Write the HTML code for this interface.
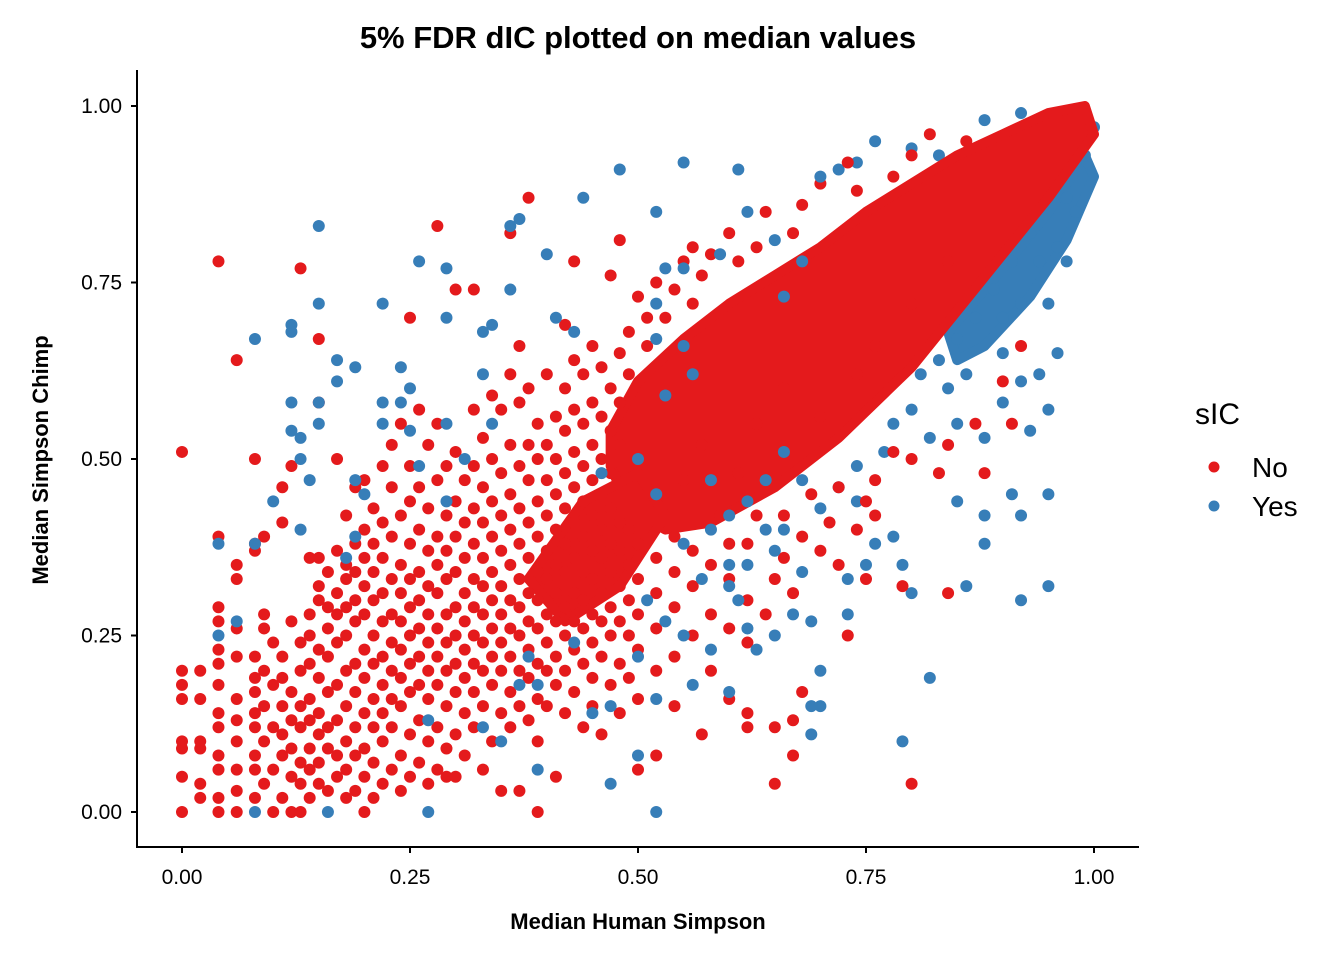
<!DOCTYPE html>
<html><head><meta charset="utf-8"><style>
body{margin:0;background:#fff}
svg{display:block}
text{font-family:"Liberation Sans",Arial,sans-serif}
</style></head><body>
<svg id="chart" width="1344" height="960">
<text x="638" y="48" text-anchor="middle" font-size="31" font-weight="bold">5% FDR dIC plotted on median values</text>
<g id="plot"></g>
<g id="axes"></g>
<text x="638" y="929" text-anchor="middle" font-size="22" font-weight="bold">Median Human Simpson</text>
<text transform="translate(48,460) rotate(-90)" text-anchor="middle" font-size="22" font-weight="bold">Median Simpson Chimp</text>
<g>
<text x="1195" y="424" font-size="30">sIC</text>
<g><circle cx="1214" cy="467" r="5.5" fill="#E41A1C"/><text x="1252" y="477" font-size="28">No</text></g>
<g><circle cx="1214" cy="506" r="5.5" fill="#377EB8"/><text x="1252" y="516" font-size="28">Yes</text></g>
</g>
</svg>
<script>
const xTicks=[0,0.25,0.5,0.75,1.0];
const yTicks=[0,0.25,0.5,0.75,1.0];
const tickLabels=["0.00","0.25","0.50","0.75","1.00"];
// saturated regions of overlapping points (data coords)
const redCore=[[0.47,0.54],[0.5,0.61],[0.55,0.67],[0.6,0.72],[0.65,0.76],[0.7,0.80],[0.75,0.85],[0.8,0.89],[0.85,0.93],[0.9,0.96],[0.95,0.99],[0.99,1.0],[1.0,0.96],[0.95,0.87],[0.9,0.79],[0.85,0.71],[0.8,0.63],[0.72,0.53],[0.65,0.46],[0.58,0.41],[0.53,0.40],[0.49,0.43],[0.47,0.49]];
const midCore=[[0.38,0.33],[0.44,0.44],[0.50,0.48],[0.53,0.42],[0.48,0.32],[0.42,0.27]];
const blueCore=[[0.84,0.68],[0.9,0.77],[0.95,0.85],[0.99,0.93],[1.0,0.90],[0.97,0.81],[0.93,0.73],[0.88,0.66],[0.85,0.64]];
const redPts=[
[0,0],[0,0.05],[0,0.09],[0,0.10],[0,0.16],[0,0.18],[0,0.20],[0,0.51],
[0.02,0.02],[0.02,0.04],[0.02,0.09],[0.02,0.10],[0.02,0.16],[0.02,0.20],
[0.04,0],[0.04,0.02],[0.04,0.06],[0.04,0.08],[0.04,0.12],[0.04,0.14],[0.04,0.18],[0.04,0.21],[0.04,0.23],[0.04,0.27],[0.04,0.29],[0.04,0.39],[0.04,0.78],
[0.06,0],[0.06,0.03],[0.06,0.06],[0.06,0.10],[0.06,0.13],[0.06,0.16],[0.06,0.22],[0.06,0.26],[0.06,0.33],[0.06,0.35],[0.06,0.64],
[0.08,0.02],[0.08,0.06],[0.08,0.08],[0.08,0.12],[0.08,0.14],[0.08,0.17],[0.08,0.19],[0.08,0.22],[0.08,0.37],[0.08,0.38],[0.08,0.50],
[0.09,0.04],[0.09,0.10],[0.09,0.15],[0.09,0.20],[0.09,0.26],[0.09,0.28],[0.09,0.39],
[0.10,0],[0.10,0.06],[0.10,0.12],[0.10,0.18],[0.10,0.24],
[0.11,0.02],[0.11,0.08],[0.11,0.11],[0.11,0.15],[0.11,0.19],[0.11,0.22],[0.11,0.41],[0.11,0.46],
[0.12,0],[0.12,0.05],[0.12,0.09],[0.12,0.13],[0.12,0.17],[0.12,0.27],[0.12,0.49],
[0.13,0],[0.13,0.04],[0.13,0.07],[0.13,0.12],[0.13,0.15],[0.13,0.20],[0.13,0.24],[0.13,0.77],
[0.14,0.02],[0.14,0.06],[0.14,0.09],[0.14,0.13],[0.14,0.16],[0.14,0.21],[0.14,0.25],[0.14,0.28],[0.14,0.36],
[0.15,0.04],[0.15,0.07],[0.15,0.11],[0.15,0.14],[0.15,0.19],[0.15,0.23],[0.15,0.30],[0.15,0.32],[0.15,0.36],[0.15,0.58],[0.15,0.67],
[0.16,0.03],[0.16,0.09],[0.16,0.12],[0.16,0.17],[0.16,0.22],[0.16,0.26],[0.16,0.29],[0.16,0.34],
[0.17,0.05],[0.17,0.08],[0.17,0.13],[0.17,0.18],[0.17,0.24],[0.17,0.28],[0.17,0.31],[0.17,0.37],[0.17,0.50],
[0.18,0.02],[0.18,0.06],[0.18,0.10],[0.18,0.15],[0.18,0.20],[0.18,0.25],[0.18,0.29],[0.18,0.33],[0.18,0.35],[0.18,0.42],
[0.19,0.03],[0.19,0.08],[0.19,0.12],[0.19,0.17],[0.19,0.21],[0.19,0.27],[0.19,0.30],[0.19,0.34],[0.19,0.38],[0.19,0.46],
[0.20,0],[0.20,0.05],[0.20,0.09],[0.20,0.14],[0.20,0.19],[0.20,0.23],[0.20,0.28],[0.20,0.32],[0.20,0.36],[0.20,0.40],[0.20,0.47],
[0.21,0.02],[0.21,0.07],[0.21,0.12],[0.21,0.16],[0.21,0.21],[0.21,0.25],[0.21,0.30],[0.21,0.34],[0.21,0.38],[0.21,0.43],
[0.22,0.04],[0.22,0.10],[0.22,0.14],[0.22,0.18],[0.22,0.22],[0.22,0.27],[0.22,0.31],[0.22,0.36],[0.22,0.41],[0.22,0.49],
[0.23,0.06],[0.23,0.12],[0.23,0.16],[0.23,0.20],[0.23,0.24],[0.23,0.28],[0.23,0.33],[0.23,0.39],[0.23,0.46],[0.23,0.52],
[0.24,0.03],[0.24,0.08],[0.24,0.15],[0.24,0.19],[0.24,0.23],[0.24,0.27],[0.24,0.31],[0.24,0.35],[0.24,0.42],[0.24,0.55],
[0.25,0.05],[0.25,0.11],[0.25,0.17],[0.25,0.21],[0.25,0.25],[0.25,0.29],[0.25,0.33],[0.25,0.38],[0.25,0.44],[0.25,0.49],
[0.26,0.07],[0.26,0.13],[0.26,0.18],[0.26,0.22],[0.26,0.26],[0.26,0.30],[0.26,0.34],[0.26,0.40],[0.26,0.46],[0.26,0.57],
[0.27,0.04],[0.27,0.10],[0.27,0.16],[0.27,0.20],[0.27,0.24],[0.27,0.28],[0.27,0.32],[0.27,0.37],[0.27,0.43],[0.27,0.52],[0.28,0.83],
[0.28,0.06],[0.28,0.12],[0.28,0.18],[0.28,0.22],[0.28,0.26],[0.28,0.31],[0.28,0.35],[0.28,0.39],[0.28,0.47],[0.28,0.55],
[0.29,0.05],[0.29,0.09],[0.29,0.15],[0.29,0.20],[0.29,0.24],[0.29,0.28],[0.29,0.33],[0.29,0.37],[0.29,0.42],[0.29,0.49],
[0.30,0.05],[0.30,0.11],[0.30,0.17],[0.30,0.21],[0.30,0.25],[0.30,0.29],[0.30,0.34],[0.30,0.39],[0.30,0.44],[0.30,0.51],
[0.31,0.08],[0.31,0.14],[0.31,0.19],[0.31,0.23],[0.31,0.27],[0.31,0.31],[0.31,0.36],[0.31,0.41],[0.31,0.47],[0.32,0.74],
[0.32,0.12],[0.32,0.17],[0.32,0.21],[0.32,0.25],[0.32,0.29],[0.32,0.33],[0.32,0.38],[0.32,0.43],[0.32,0.49],[0.32,0.57],
[0.33,0.06],[0.33,0.15],[0.33,0.20],[0.33,0.24],[0.33,0.28],[0.33,0.32],[0.33,0.36],[0.33,0.41],[0.33,0.46],[0.33,0.53],
[0.34,0.10],[0.34,0.18],[0.34,0.22],[0.34,0.26],[0.34,0.30],[0.34,0.34],[0.34,0.39],[0.34,0.44],[0.34,0.50],[0.34,0.59],
[0.35,0.03],[0.35,0.14],[0.35,0.20],[0.35,0.24],[0.35,0.28],[0.35,0.32],[0.35,0.37],[0.35,0.42],[0.35,0.48],[0.35,0.57],
[0.36,0.12],[0.36,0.17],[0.36,0.22],[0.36,0.26],[0.36,0.30],[0.36,0.35],[0.36,0.40],[0.36,0.45],[0.36,0.52],[0.36,0.62],
[0.37,0.03],[0.37,0.15],[0.37,0.20],[0.37,0.25],[0.37,0.29],[0.37,0.33],[0.37,0.38],[0.37,0.43],[0.37,0.49],[0.37,0.58],[0.37,0.66],
[0.38,0.13],[0.38,0.19],[0.38,0.23],[0.38,0.27],[0.38,0.31],[0.38,0.36],[0.38,0.41],[0.38,0.47],[0.38,0.52],[0.38,0.60],
[0.39,0],[0.39,0.10],[0.39,0.16],[0.39,0.21],[0.39,0.26],[0.39,0.30],[0.39,0.34],[0.39,0.39],[0.39,0.44],[0.39,0.50],[0.39,0.55],
[0.40,0.15],[0.40,0.20],[0.40,0.24],[0.40,0.28],[0.40,0.33],[0.40,0.37],[0.40,0.42],[0.40,0.47],[0.40,0.52],[0.40,0.62],
[0.41,0.05],[0.41,0.18],[0.41,0.22],[0.41,0.27],[0.41,0.31],[0.41,0.35],[0.41,0.40],[0.41,0.45],[0.41,0.50],[0.41,0.56],[0.42,0.69],
[0.42,0.14],[0.42,0.20],[0.42,0.25],[0.42,0.29],[0.42,0.34],[0.42,0.38],[0.42,0.43],[0.42,0.48],[0.42,0.54],[0.42,0.60],
[0.43,0.17],[0.43,0.23],[0.43,0.27],[0.43,0.31],[0.43,0.36],[0.43,0.41],[0.43,0.46],[0.43,0.51],[0.43,0.57],[0.43,0.64],
[0.44,0.12],[0.44,0.21],[0.44,0.26],[0.44,0.30],[0.44,0.34],[0.44,0.39],[0.44,0.44],[0.44,0.49],[0.44,0.55],[0.44,0.62],
[0.45,0.15],[0.45,0.19],[0.45,0.24],[0.45,0.28],[0.45,0.33],[0.45,0.37],[0.45,0.42],[0.45,0.47],[0.45,0.52],[0.45,0.58],[0.45,0.66],
[0.46,0.11],[0.46,0.22],[0.46,0.27],[0.46,0.31],[0.46,0.36],[0.46,0.40],[0.46,0.45],[0.46,0.50],[0.46,0.56],[0.46,0.63],[0.47,0.76],
[0.47,0.18],[0.47,0.25],[0.47,0.29],[0.47,0.34],[0.47,0.38],[0.47,0.43],[0.47,0.48],[0.47,0.54],[0.47,0.60],[0.48,0.81],
[0.48,0.14],[0.48,0.21],[0.48,0.27],[0.48,0.32],[0.48,0.37],[0.48,0.41],[0.48,0.52],[0.48,0.58],[0.48,0.65],
[0.49,0.19],[0.49,0.25],[0.49,0.30],[0.49,0.35],[0.49,0.40],[0.49,0.62],[0.49,0.68],[0.50,0.06],[0.50,0.73],
[0.50,0.16],[0.50,0.23],[0.50,0.28],[0.50,0.33],[0.50,0.38],[0.51,0.66],[0.51,0.70],[0.52,0.75],[0.52,0.08],
[0.52,0.20],[0.52,0.26],[0.52,0.31],[0.52,0.36],[0.53,0.70],[0.54,0.74],[0.55,0.78],[0.56,0.80],[0.56,0.72],
[0.54,0.15],[0.54,0.22],[0.54,0.29],[0.54,0.34],[0.54,0.39],[0.56,0.25],[0.56,0.32],[0.56,0.37],[0.57,0.76],[0.58,0.79],
[0.58,0.20],[0.58,0.28],[0.58,0.35],[0.59,0.42],[0.60,0.16],[0.60,0.26],[0.60,0.33],[0.60,0.38],[0.60,0.82],[0.61,0.78],
[0.62,0.12],[0.62,0.24],[0.62,0.30],[0.62,0.38],[0.63,0.42],[0.63,0.80],[0.64,0.85],[0.65,0.04],[0.65,0.12],[0.65,0.33],
[0.64,0.28],[0.66,0.36],[0.66,0.42],[0.67,0.08],[0.67,0.31],[0.67,0.82],[0.68,0.86],[0.68,0.39],[0.69,0.45],[0.70,0.37],
[0.70,0.89],[0.71,0.41],[0.72,0.46],[0.72,0.35],[0.73,0.92],[0.74,0.40],[0.74,0.88],[0.75,0.44],[0.76,0.42],[0.76,0.47],
[0.73,0.25],[0.78,0.90],[0.79,0.32],[0.80,0.04],[0.80,0.50],[0.80,0.93],[0.82,0.96],[0.84,0.31],[0.84,0.52],[0.86,0.95],
[0.87,0.55],[0.90,0.61],[0.91,0.55],[0.92,0.66],[0.88,0.48],[0.83,0.48],[0.78,0.51],[0.68,0.17],[0.67,0.13],[0.75,0.33],
[0.55,0.47],[0.57,0.52],[0.61,0.48],[0.63,0.55],[0.66,0.60],[0.70,0.56],[0.74,0.62],[0.76,0.66],[0.80,0.72],[0.84,0.78],
[0.57,0.11],[0.62,0.14],[0.43,0.78],[0.38,0.87],[0.36,0.82],[0.30,0.74],[0.25,0.70]
];
const bluePts=[
[0.15,0.83],[0.12,0.69],[0.12,0.68],[0.08,0.67],[0.15,0.72],[0.22,0.72],[0.26,0.78],[0.29,0.77],[0.29,0.70],[0.17,0.64],[0.19,0.63],[0.17,0.61],[0.12,0.58],[0.15,0.58],[0.12,0.54],[0.13,0.53],[0.15,0.55],[0.13,0.50],[0.14,0.47],[0.10,0.44],[0.13,0.40],[0.19,0.47],[0.20,0.45],[0.22,0.58],[0.22,0.55],[0.24,0.58],[0.25,0.54],[0.24,0.63],[0.25,0.60],[0.04,0.38],[0.04,0.25],[0.06,0.27],[0.08,0.38],[0.34,0.69],[0.33,0.68],[0.33,0.62],[0.36,0.83],[0.37,0.84],[0.40,0.79],[0.41,0.70],[0.43,0.68],[0.36,0.74],[0.44,0.87],[0.48,0.91],[0.55,0.92],[0.61,0.91],[0.62,0.85],[0.52,0.85],[0.59,0.79],[0.29,0.44],[0.31,0.50],[0.26,0.49],[0.34,0.55],[0.29,0.55],[0.18,0.36],[0.19,0.39],[0.08,0],[0.16,0],[0.27,0],[0.52,0],[0.47,0.04],[0.50,0.08],[0.39,0.06],[0.35,0.10],[0.27,0.13],[0.33,0.12],[0.37,0.18],[0.38,0.22],[0.43,0.24],[0.39,0.18],[0.45,0.14],[0.47,0.15],[0.52,0.16],[0.50,0.22],[0.51,0.30],[0.53,0.27],[0.55,0.25],[0.56,0.18],[0.57,0.33],[0.55,0.38],[0.60,0.32],[0.61,0.30],[0.62,0.26],[0.63,0.23],[0.65,0.25],[0.60,0.35],[0.62,0.44],[0.64,0.40],[0.66,0.40],[0.68,0.34],[0.67,0.28],[0.69,0.27],[0.70,0.20],[0.70,0.15],[0.69,0.15],[0.69,0.11],[0.60,0.17],[0.58,0.23],[0.73,0.28],[0.73,0.33],[0.75,0.35],[0.76,0.38],[0.78,0.39],[0.79,0.35],[0.80,0.31],[0.82,0.19],[0.79,0.10],[0.86,0.32],[0.88,0.38],[0.85,0.44],[0.88,0.42],[0.92,0.42],[0.91,0.45],[0.95,0.45],[0.92,0.30],[0.95,0.32],[0.95,0.57],[0.96,0.65],[0.95,0.72],[0.97,0.78],[0.98,0.85],[0.99,0.93],[0.98,0.92],[1.0,0.97],[0.92,0.61],[0.94,0.62],[0.93,0.54],[0.90,0.58],[0.88,0.53],[0.85,0.55],[0.84,0.60],[0.82,0.53],[0.80,0.57],[0.78,0.55],[0.77,0.51],[0.74,0.49],[0.74,0.44],[0.72,0.46],[0.70,0.43],[0.68,0.47],[0.66,0.51],[0.64,0.47],[0.90,0.70],[0.92,0.72],[0.94,0.78],[0.96,0.80],[0.97,0.87],[0.93,0.82],[0.91,0.78],[0.89,0.74],[0.87,0.70],[0.85,0.67],[0.83,0.64],[0.81,0.62],[0.90,0.65],[0.86,0.62],[0.76,0.95],[0.80,0.94],[0.83,0.93],[0.88,0.98],[0.92,0.99],[0.95,0.98],[0.72,0.91],[0.70,0.90],[0.74,0.92],[0.65,0.81],[0.68,0.78],[0.66,0.73],[0.53,0.77],[0.55,0.77],[0.52,0.72],[0.52,0.67],[0.56,0.62],[0.53,0.59],[0.55,0.66],[0.58,0.47],[0.60,0.42],[0.58,0.40],[0.62,0.35],[0.65,0.37],[0.46,0.48],[0.50,0.50],[0.52,0.45]
];
const NS="http://www.w3.org/2000/svg";
const X0=182,X1=1094,Y0=812,Y1=106;
function sx(v){return X0+(X1-X0)*v;}
function sy(v){return Y0-(Y0-Y1)*v;}
const plot=document.getElementById('plot');
const axes=document.getElementById('axes');
function poly(data,color,name){
  const p=document.createElementNS(NS,'polygon');
  p.setAttribute('points',data.map(d=>sx(d[0])+','+sy(d[1])).join(' '));
  p.setAttribute('fill',color);p.setAttribute('stroke',color);p.setAttribute('stroke-width','10');p.setAttribute('stroke-linejoin','round');
  
  
  plot.appendChild(p);
}
function pts(data,color,name){
  data.forEach(d=>{
    const c=document.createElementNS(NS,'circle');
    c.setAttribute('cx',sx(d[0]));c.setAttribute('cy',sy(d[1]));c.setAttribute('r','6');c.setAttribute('fill',color);
    
    
    plot.appendChild(c);
  });
}
poly(blueCore,'#377EB8','yes-dense-region');
pts(bluePts.filter(d=>d[0]>0.7),'#377EB8','point-yes');
poly(redCore,'#E41A1C','no-dense-region');
poly(midCore,'#E41A1C','no-mid-dense-region');
pts(redPts,'#E41A1C','point-no');
pts(bluePts.filter(d=>d[0]<=0.7),'#377EB8','point-yes');
function line(x1,y1,x2,y2,name){
  const l=document.createElementNS(NS,'line');
  l.setAttribute('x1',x1);l.setAttribute('y1',y1);l.setAttribute('x2',x2);l.setAttribute('y2',y2);
  l.setAttribute('stroke','#000');l.setAttribute('stroke-width','2');
  
  
  axes.appendChild(l);
}
line(137,70,137,848,'y-axis-line');
line(136,847,1139,847,'x-axis-line');
function txt(x,y,s,anchor,name){
  const t=document.createElementNS(NS,'text');
  t.setAttribute('x',x);t.setAttribute('y',y);t.setAttribute('text-anchor',anchor);t.setAttribute('font-size','21');t.setAttribute('fill','#000');
  t.textContent=s;
  
  
  axes.appendChild(t);
}
xTicks.forEach((v,i)=>{line(sx(v),847,sx(v),853,'x-tick');txt(sx(v),884,tickLabels[i],'middle','x-tick-label');});
yTicks.forEach((v,i)=>{line(131,sy(v),137,sy(v),'y-tick');txt(122,sy(v)+7,tickLabels[i],'end','y-tick-label');});
</script>
</body></html>
